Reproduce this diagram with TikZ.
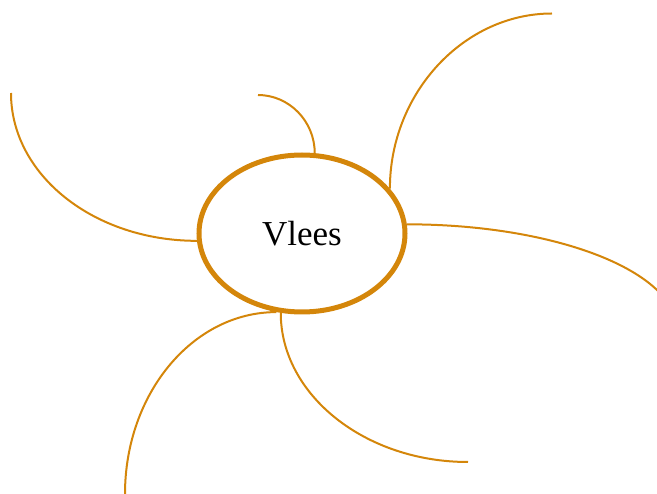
\documentclass[tikz,border=0pt]{standalone}
\usepackage{fontspec}
\setmainfont{Liberation Serif}
\usepackage{xcolor}
\usepackage{tikz}
\usetikzlibrary{shapes.geometric}

\definecolor{mapor}{HTML}{D4860A}

\begin{document}
\begin{tikzpicture}[
  x=1pt, y=-1pt,
  topic/.style={draw=mapor, line width=5pt, ellipse, minimum width=206pt, minimum height=157pt, inner sep=0pt, font=\fontsize{35}{40}\selectfont},
  branch/.style={draw=mapor, line width=2pt}
]
  \useasboundingbox (0,0) rectangle (657,494);
  \clip (0,0) rectangle (657,494);

  \node[topic] (vlees) at (302,233.5) {Vlees};

  % free ends of the branches
  \coordinate (tl) at (11,93);
  \coordinate (tsmall) at (258,95);
  \coordinate (tr) at (552,13.5);
  \coordinate (rt) at (677,330);
  \coordinate (bl) at (125,494);
  \coordinate (br) at (468,462);

  \draw[branch] (vlees.184.6) .. controls +(-103,0) and +(0,82) .. (tl);
  \draw[branch] (vlees.81.5) .. controls +(0,-32) and +(31,0) .. (tsmall);
  \draw[branch] (vlees.27.3) .. controls +(0,-96) and +(-88,0) .. (tr);
  \draw[branch] (vlees.5.2) .. controls +(149,0) and +(0,-58.5) .. (rt);
  \draw[branch] (vlees.252) .. controls +(-84,0) and +(0,-100) .. (bl);
  \draw[branch] (vlees.255.4) .. controls +(0,82) and +(-103,0) .. (br);
\end{tikzpicture}
\end{document}
